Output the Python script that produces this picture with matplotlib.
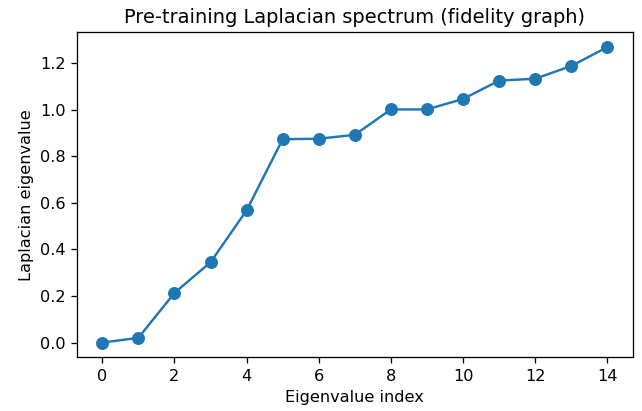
import matplotlib
matplotlib.use("Agg")
import matplotlib.pyplot as plt

indices = list(range(15))
eigenvalues = [0.0, 0.020, 0.213, 0.345, 0.568, 0.874, 0.876, 0.893, 1.002, 1.002,
               1.047, 1.126, 1.134, 1.189, 1.270]

scale = 1.165
fig = plt.figure(figsize=(6.43/scale, 4.11/scale), dpi=100*scale)
ax = fig.add_axes([77/643, 1-357.3/411, (632.7-77)/643, (357.3-32.3)/411])
ax.plot(indices, eigenvalues, marker='o', color='#1f77b4', linewidth=1.5, markersize=7)
ax.set_title("Pre-training Laplacian spectrum (fidelity graph)")
ax.set_xlabel("Eigenvalue index")
ax.set_ylabel("Laplacian eigenvalue")
ax.set_xticks(range(0, 15, 2))
fig.savefig("out.png", dpi=100*scale)
